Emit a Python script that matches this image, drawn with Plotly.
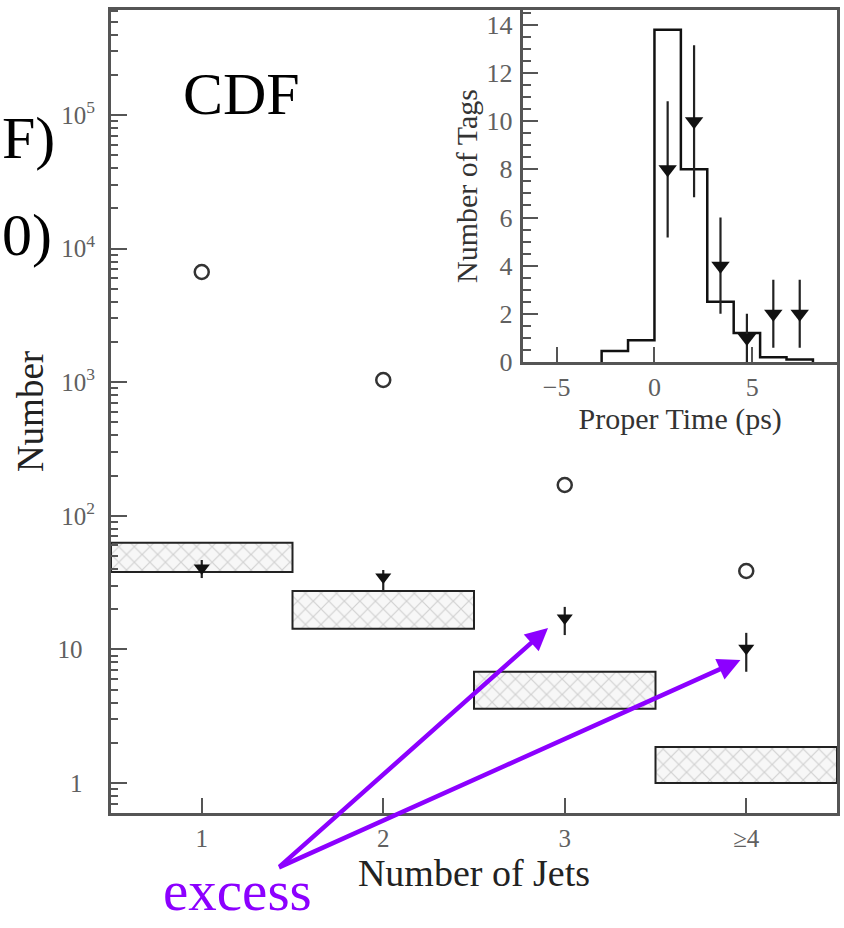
import numpy as np
import plotly.graph_objects as go

# ---------------- data: main plot ----------------
jets = [1, 2, 3, 4]
jet_labels = ["1", "2", "3", "\u22654"]

band_low = [38.0, 14.3, 3.6, 1.0]
band_high = [62.8, 27.4, 6.8, 1.86]

circle_vals = [6680, 1038, 170, 38.6]

tri_vals = [40.7, 34.8, 17.2, 10.2]
tri_err_up = [6.0, 4.5, 3.6, 3.1]
tri_err_down = [6.5, 7.4, 4.4, 3.4]

# ---------------- data: inset ----------------
hist_edges = [-2.7, -1.35, 0.0, 1.35, 2.7, 4.05, 5.4, 6.75, 8.1]
hist_vals = [0.45, 0.9, 13.8, 8.0, 2.5, 1.2, 0.2, 0.1]

inset_x = [0.675, 2.025, 3.375, 4.725, 6.075, 7.425]
inset_y = [8, 10, 4, 1, 2, 2]
inset_err = [2.83, 3.16, 2.0, 1.0, 1.41, 1.41]

SERIF = "Liberation Serif, Times New Roman, serif"
AX = "#555555"
TICKC = "#606060"

fig = go.Figure()

# hatched bands
fig.add_trace(go.Bar(
    x=jets, base=band_low,
    y=[h - l for h, l in zip(band_high, band_low)],
    width=1.0,
    marker=dict(color="#f7f7f7",
                line=dict(color="#222222", width=2),
                pattern=dict(shape="x", fgcolor="#aaaaaa", bgcolor="#f7f7f7",
                             size=11, solidity=0.2)),
    showlegend=False, xaxis="x", yaxis="y"))

# open circles
fig.add_trace(go.Scatter(
    x=jets, y=circle_vals, mode="markers",
    marker=dict(symbol="circle-open", size=14, color="#333333",
                line=dict(width=2.5)),
    showlegend=False, xaxis="x", yaxis="y"))

# filled triangles
fig.add_trace(go.Scatter(
    x=jets, y=tri_vals, mode="markers",
    marker=dict(symbol="triangle-down", size=14, color="#111111"),
    error_y=dict(type="data", symmetric=False, array=tri_err_up,
                 arrayminus=tri_err_down, width=0, thickness=2.2,
                 color="#222222"),
    showlegend=False, xaxis="x", yaxis="y"))

# inset histogram (step outline)
hx, hy = [], []
for i, v in enumerate(hist_vals):
    lo, hi = hist_edges[i], hist_edges[i + 1]
    if i == 0:
        hx.append(lo); hy.append(0)
    hx += [lo, hi]
    hy += [v, v]
hx.append(hist_edges[-1]); hy.append(0)
fig.add_trace(go.Scatter(
    x=hx, y=hy, mode="lines", line=dict(color="#111111", width=2.5),
    showlegend=False, xaxis="x2", yaxis="y2"))

# inset points
fig.add_trace(go.Scatter(
    x=inset_x, y=inset_y, mode="markers",
    marker=dict(symbol="triangle-down", size=16, color="#111111"),
    error_y=dict(type="data", array=inset_err, width=0, thickness=2.2,
                 color="#222222"),
    showlegend=False, xaxis="x2", yaxis="y2"))

# minor tick positions for the log axis
minor_log = [k * 10.0 ** n for n in range(-1, 6) for k in range(2, 10)]

fig.update_layout(
    width=844, height=928,
    margin=dict(l=111, r=4, t=10, b=115),
    paper_bgcolor="white", plot_bgcolor="white",
    font=dict(family=SERIF, color="#222222"),
    barmode="overlay",
    xaxis=dict(
        domain=[0, 1], range=[0.5, 4.5],
        tickmode="array", tickvals=jets, ticktext=jet_labels,
        ticks="inside", ticklen=15, tickwidth=2, tickcolor=AX,
        showline=True, linecolor=AX, linewidth=3, mirror=True,
        showgrid=False, zeroline=False,
        tickfont=dict(family=SERIF, size=25, color=TICKC),
        ticklabelstandoff=1,
        title=dict(text="Number of Jets", font=dict(family=SERIF, size=38, color="#222"),
                   standoff=4),
    ),
    yaxis=dict(
        domain=[0, 1], type="log", range=[-0.2246, 5.786],
        tickmode="array",
        tickvals=[1, 10, 100, 1e3, 1e4, 1e5],
        ticktext=["1\u2002", "10\u2002", "10<sup>2</sup>", "10<sup>3</sup>",
                  "10<sup>4</sup>", "10<sup>5</sup>"],
        ticks="inside", ticklen=16, tickwidth=2, tickcolor=AX,
        minor=dict(tickmode="array", tickvals=minor_log, ticks="inside",
                   ticklen=7, tickwidth=2, tickcolor=AX, showgrid=False),
        showline=True, linecolor=AX, linewidth=3, mirror=True,
        showgrid=False, zeroline=False,
        tickfont=dict(family=SERIF, size=25, color=TICKC),
        ticklabelstandoff=8,
        title=dict(text="Number", font=dict(family=SERIF, size=37, color="#222"),
                   standoff=3),
    ),
    xaxis2=dict(
        domain=[0.568, 1.0], anchor="y2", range=[-6.7, 9.33],
        tickmode="array", tickvals=[-5, 0, 5],
        ticks="inside", ticklen=15, tickwidth=2, tickcolor=AX,
        showline=True, linecolor=AX, linewidth=2.5, mirror=True,
        showgrid=False, zeroline=False,
        tickfont=dict(family=SERIF, size=26, color=TICKC),
        ticklabelstandoff=0,
        title=dict(text="Proper Time (ps)", font=dict(family=SERIF, size=30, color="#333"),
                   standoff=2),
    ),
    yaxis2=dict(
        domain=[0.5617, 1.0], anchor="x2", range=[0, 14.62],
        tickmode="array", tickvals=list(range(0, 15, 2)),
        ticks="inside", ticklen=15, tickwidth=2, tickcolor=AX,
        minor=dict(dtick=0.5, ticks="inside", ticklen=8, tickwidth=2,
                   tickcolor=AX, showgrid=False),
        showline=True, linecolor=AX, linewidth=2.5, mirror=True,
        showgrid=False, zeroline=False,
        tickfont=dict(family=SERIF, size=26, color=TICKC),
        ticklabelstandoff=3,
        title=dict(text="Number of Tags", font=dict(family=SERIF, size=30, color="#333"),
                   standoff=0),
    ),
)

PURPLE = "#8C00FF"
ann = [
    dict(text="CDF", x=0.1797, y=0.8955, xref="paper", yref="paper",
         xanchor="center", yanchor="middle", showarrow=False,
         font=dict(family=SERIF, size=60, color="#000")),
    dict(text="F)", x=-0.1523, y=0.8406, xref="paper", yref="paper",
         xanchor="left", yanchor="middle", showarrow=False,
         font=dict(family=SERIF, size=60, color="#000")),
    dict(text="0)", x=-0.1523, y=0.7198, xref="paper", yref="paper",
         xanchor="left", yanchor="middle", showarrow=False,
         font=dict(family=SERIF, size=60, color="#000")),
    dict(text="excess", x=0.1742, y=0.0, yshift=-77, xref="paper", yref="paper",
         xanchor="center", yanchor="middle", showarrow=False,
         font=dict(family=SERIF, size=57, color=PURPLE)),
    dict(text="", x=0.602, y=0.2304, xref="paper", yref="paper",
         ax=-270, ay=240, showarrow=True, arrowhead=2, arrowsize=1,
         arrowwidth=4.5, arrowcolor=PURPLE, standoff=0),
    dict(text="", x=0.867, y=0.1905, xref="paper", yref="paper",
         ax=-463, ay=208, showarrow=True, arrowhead=2, arrowsize=1,
         arrowwidth=4.5, arrowcolor=PURPLE, standoff=0),
]
fig.update_layout(annotations=ann)

fig.write_html("out.html")
